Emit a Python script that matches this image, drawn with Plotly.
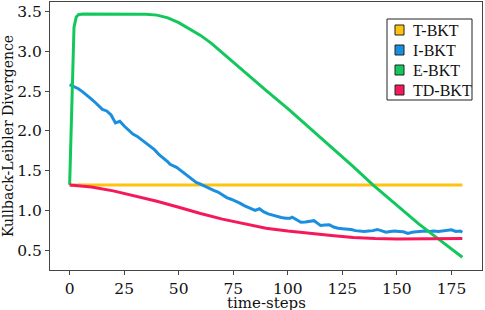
import plotly.graph_objects as go

# ---- data ----
t_bkt_x = [0, 180]
t_bkt_y = [1.32, 1.32]

i_bkt_x = [0, 2, 4, 6, 8, 10, 12, 14, 15, 17, 19, 21, 22, 23, 25, 27, 29, 31, 32, 34,
           36, 38, 39, 41, 43, 45, 46, 48, 49, 51, 53, 54, 56, 58, 60, 62, 64, 66, 68, 70,
           72, 74, 76, 78, 80, 82, 85, 87, 89, 91, 93, 95, 97, 99, 101, 102, 104, 106, 108, 110,
           112, 114, 115, 117, 119, 121, 123, 125, 127, 129, 131, 133, 135, 137, 139, 141, 143, 145, 147, 149,
           151, 153, 155, 157, 159, 161, 163, 165, 167, 169, 171, 173, 175, 177, 179, 180]
i_bkt_y = [2.58, 2.56, 2.53, 2.49, 2.45, 2.40, 2.35, 2.29, 2.27, 2.25, 2.20, 2.10, 2.11, 2.12, 2.06, 2.01, 1.96, 1.93, 1.91, 1.87,
           1.82, 1.78, 1.76, 1.70, 1.66, 1.61, 1.58, 1.56, 1.54, 1.50, 1.46, 1.44, 1.40, 1.35, 1.33, 1.30, 1.27, 1.25, 1.23, 1.19,
           1.16, 1.14, 1.12, 1.09, 1.06, 1.04, 1.00, 1.02, 0.98, 0.955, 0.94, 0.92, 0.91, 0.90, 0.90, 0.915, 0.88, 0.85, 0.855, 0.86,
           0.87, 0.83, 0.81, 0.815, 0.82, 0.79, 0.775, 0.77, 0.765, 0.76, 0.745, 0.74, 0.735, 0.74, 0.745, 0.76, 0.74, 0.725, 0.735, 0.74,
           0.735, 0.73, 0.71, 0.725, 0.73, 0.735, 0.74, 0.735, 0.74, 0.735, 0.74, 0.745, 0.755, 0.735, 0.74, 0.725]

e_bkt_x = [0, 1, 2, 3, 4, 6, 20, 35, 40, 45, 50, 55, 60, 65, 70, 75, 80, 90, 100, 110,
           120, 130, 139, 150, 160, 170, 180]
e_bkt_y = [1.32, 2.5, 3.3, 3.43, 3.46, 3.47, 3.47, 3.465, 3.455, 3.42, 3.36, 3.28, 3.20, 3.10, 2.98, 2.86, 2.75, 2.51, 2.28, 2.04,
           1.79, 1.55, 1.32, 1.06, 0.83, 0.62, 0.41]

td_bkt_x = [0, 10, 20, 30, 40, 50, 60, 70, 80, 90, 100, 110, 120, 130, 140, 150, 160, 170, 180]
td_bkt_y = [1.32, 1.295, 1.245, 1.18, 1.115, 1.04, 0.96, 0.89, 0.83, 0.775, 0.74, 0.71, 0.685, 0.66, 0.645, 0.64, 0.64, 0.642, 0.645]

names = ["T-BKT", "I-BKT", "E-BKT", "TD-BKT"]
colors = ["#FFC20E", "#1A8FE0", "#12C85C", "#F5195A"]
xs = [t_bkt_x, i_bkt_x, e_bkt_x, td_bkt_x]
ys = [t_bkt_y, i_bkt_y, e_bkt_y, td_bkt_y]

x_ticks = [0, 25, 50, 75, 100, 125, 150, 175]
y_ticks = [0.5, 1.0, 1.5, 2.0, 2.5, 3.0, 3.5]
x_title = "time-steps"
y_title = "Kullback-Leibler Divergence"

# ---- layout geometry (pixels) ----
W, H = 485, 310
ML, MR, MT, MB = 50, 3, 2, 40
PW, PH = W - ML - MR, H - MT - MB


def px(x):
    return (x - ML) / PW


def py(y):
    return (H - MB - y) / PH


fig = go.Figure()
for n, c, x, y in zip(names, colors, xs, ys):
    fig.add_trace(go.Scatter(x=x, y=y, mode="lines", line=dict(color=c, width=3),
                             showlegend=False, name=n))

# ---- hand-built legend box (matches the reference's square swatches) ----
shapes = [dict(type="rect", xref="paper", yref="paper",
               x0=px(387), x1=px(472), y0=py(100), y1=py(19),
               line=dict(color="#222222", width=1), fillcolor="white", layer="above")]
annotations = []
row_centers = [30, 50, 70, 90]
for n, c, rc in zip(names, colors, row_centers):
    shapes.append(dict(type="rect", xref="paper", yref="paper",
                       x0=px(395), x1=px(404), y0=py(rc + 5), y1=py(rc - 5),
                       line=dict(color="#222222", width=1), fillcolor=c, layer="above"))
    annotations.append(dict(xref="paper", yref="paper", x=px(411), y=py(rc + 0.5),
                            xanchor="left", yanchor="middle", showarrow=False, text=n,
                            font=dict(family="Liberation Serif", size=16, color="#111111")))

# x-axis title placed just below the tick labels, as in the reference
annotations.append(dict(xref="paper", yref="paper", x=0.5, y=py(303), xanchor="center",
                        yanchor="middle", showarrow=False, text=x_title,
                        font=dict(family="DejaVu Serif", size=15, color="#111111")))

axis_common = dict(showline=True, linecolor="#444444", linewidth=1, mirror=True,
                   ticks="outside", ticklen=4, tickcolor="#444444", showgrid=False,
                   zeroline=False, automargin=False,
                   tickfont=dict(family="DejaVu Serif", size=15.5, color="#111111"))

fig.update_layout(
    width=W, height=H,
    margin=dict(l=ML, r=MR, t=MT, b=MB),
    plot_bgcolor="white", paper_bgcolor="white",
    showlegend=False,
    shapes=shapes, annotations=annotations,
    xaxis=dict(range=[-9, 189], tickvals=x_ticks, ticktext=[str(v) for v in x_ticks],
               **axis_common),
    yaxis=dict(range=[0.25, 3.62], tickvals=y_ticks, ticktext=[f"{v:.1f}" for v in y_ticks],
               title=dict(text=y_title,
                          font=dict(family="DejaVu Serif", size=14, color="#111111"), standoff=0),
               **axis_common),
)

fig.write_html("out.html", config={"displayModeBar": False},
               post_script="document.body.style.margin='0';document.body.style.overflow='hidden';")
